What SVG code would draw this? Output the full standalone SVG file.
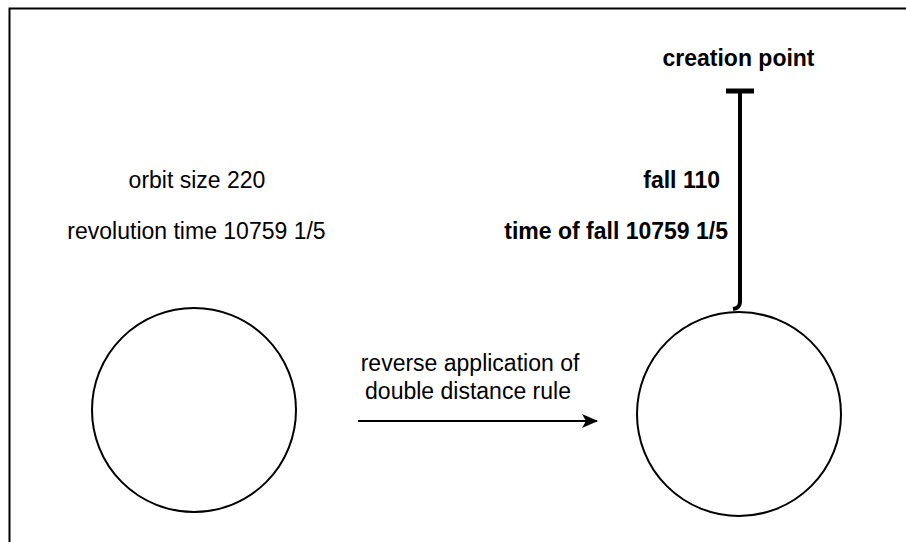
<svg xmlns="http://www.w3.org/2000/svg" width="906" height="542" viewBox="0 0 906 542">
<style>
.t{font-family:"Liberation Sans",Arial,Helvetica,sans-serif;font-size:23px;fill:#000}
.b{font-weight:bold}
.s{fill:none;stroke:#000;stroke-width:2}
</style>
<defs>
<marker id="ah" markerWidth="16" markerHeight="14" refX="15" refY="7" orient="auto" markerUnits="userSpaceOnUse">
<path d="M0,0 L16,7 L0,14 L4,7 Z" fill="#000"/>
</marker>
</defs>
<rect width="906" height="542" fill="#fff"/>
<path d="M9.5,542 V8.5 H906" fill="none" stroke="#000" stroke-width="2"/>
<g id="orbit-left">
<circle class="s" cx="194" cy="410" r="102"/>
<text class="t" x="197" y="188" text-anchor="middle">orbit size 220</text>
<text class="t" x="196.5" y="239" text-anchor="middle">revolution time 10759 1/5</text>
</g>
<g id="orbit-right">
<circle class="s" cx="739" cy="414" r="102"/>
<text class="t b" x="720" y="188" text-anchor="end">fall 110</text>
<text class="t b" x="728" y="239" text-anchor="end">time of fall 10759 1/5</text>
</g>
<g id="creation-point">
<text class="t b" x="738.5" y="66" text-anchor="middle">creation point</text>
</g>
<g id="connectors">
<path d="M726,91 H754" stroke="#000" stroke-width="5" fill="none"/>
<path d="M740,91 V302 Q740,308 733,309" stroke="#000" stroke-width="4" fill="none"/>
<path d="M358,421 H597" class="s" marker-end="url(#ah)"/>
<text class="t" x="470" y="371" text-anchor="middle">reverse application of</text>
<text class="t" x="468" y="399" text-anchor="middle">double distance rule</text>
</g>
</svg>
